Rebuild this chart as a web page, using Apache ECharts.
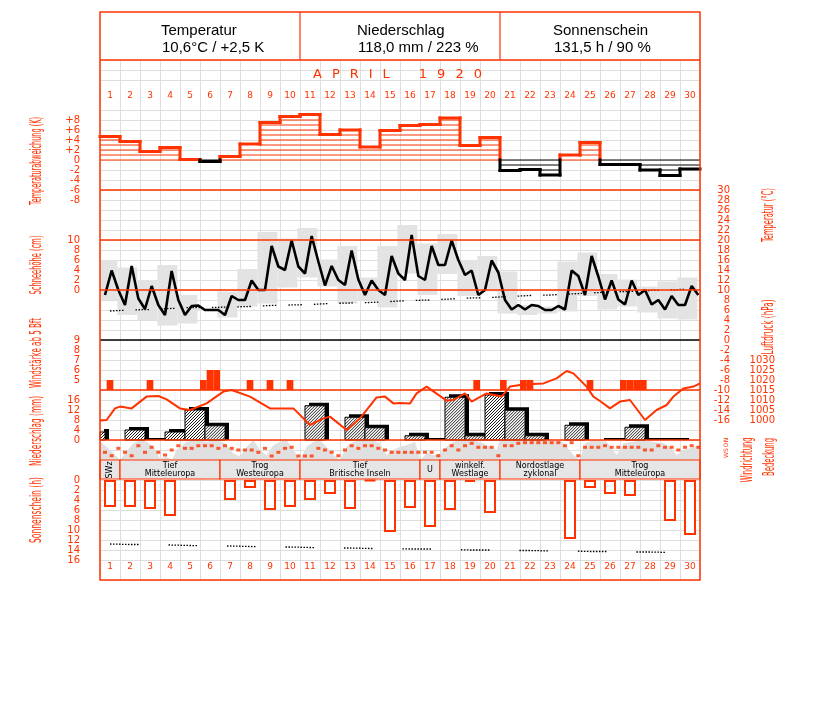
<!DOCTYPE html>
<html>
<head>
<meta charset="utf-8">
<title>April 1920</title>
<script src="https://cdn.jsdelivr.net/npm/echarts@6.0.0/dist/echarts.min.js"></script>
<style>
html,body{margin:0;padding:0;background:#ffffff;}
#chart{width:827px;height:702px;}
</style>
</head>
<body>
<div id="chart"></div>
<script>
// ================= DATA =================
const days = ['1','2','3','4','5','6','7','8','9','10','11','12','13','14','15','16','17','18','19','20','21','22','23','24','25','26','27','28','29','30'];

// Temperaturabweichung (K), daily
const devK = [4.7,3.7,1.7,2.5,0.1,-0.3,0.7,3.2,7.5,8.7,9.1,5.1,6.0,2.6,5.9,6.9,7.1,8.4,2.9,4.5,-2.1,-1.9,-3.0,1.0,3.5,-0.9,-0.9,-2.0,-3.1,-1.8];

// Temperature observations (°C) at morning / noon / evening terms
const temp7  = [9.0,7.0,6.2,5.0,5.0,6.0,5.0,8.0,10.0,14.0,13.3,10.9,11.0,9.0,9.0,12.0,12.0,15.0,13.0,10.0,8.0,6.1,6.0,6.1,9.0,8.1,7.1,10.0,6.1,7.0];
const temp14 = [13.9,14.8,10.8,13.8,6.8,6.0,8.8,11.9,18.8,19.9,20.8,14.8,17.9,11.9,16.8,21.0,18.8,19.9,13.9,15.9,6.1,7.0,6.0,13.9,16.8,11.9,11.9,7.1,8.8,10.8];
const temp21 = [10.0,8.3,7.0,8.0,6.9,6.0,8.0,10.0,14.7,14.7,15.7,12.0,12.1,10.0,13.3,12.8,15.0,16.0,9.0,13.5,7.0,6.8,6.8,12.8,12.7,8.1,9.0,8.0,7.0,9.0];
// Daily max / min (°C)
const tMax = [16,14.5,12,15,9,6.3,9.7,14.2,21.6,20.3,22.4,16.1,18.8,12.5,18.8,23,19.3,21.2,16,16.8,13.7,7,6.7,15.7,17.5,13.2,12.1,10.7,11.7,12.5];
const tMin = [8,5,4,2.9,3.3,5.8,4.5,6.7,7.3,10.5,12.5,10.7,7.3,8,6.5,13.3,9,13.2,8.8,9.7,5.3,5,5.3,5.7,8.8,6.1,6.7,5.5,4.3,4.1];
// Long-term mean temperature (°C)
const tNormal = [5.8,6.0,6.1,6.3,6.5,6.5,6.6,6.7,6.9,7.0,7.1,7.3,7.4,7.5,7.7,7.9,8.0,8.2,8.4,8.5,8.7,8.9,9.0,9.2,9.4,9.6,9.7,9.9,10.0,10.2];

// Niederschlag (mm), daily
const precip = [3.2,0,4.0,0.4,3.2,12.0,5.7,0,0,0,0,13.7,0,9.1,4.9,0,1.7,0.4,17.1,1.7,18.0,11.9,1.7,0,5.9,0,0.4,5.1,0.4,0.4];

// Windstärke >= 5 Bft : day, term (0/1/2), Bft
const windDay  = [1,3,6,6,6,8,9,10,19,21,22,22,25,27,27,27,28];
const windTerm = [1,1,0,1,2,1,1,1,2,0,0,1,1,0,1,2,0];
const windBft  = [5,5,5,6,6,5,5,5,5,5,5,5,5,5,5,5,5];

// Luftdruck (hPa): time in days since 1 April 0h, value
const pressT   = [0,0.33,0.75,1.0,1.58,2.33,2.92,3.33,4.0,4.5,5.33,6.17,6.58,7.5,8.5,9.67,10.5,11.17,11.5,12.33,13.0,13.83,14.25,14.67,15.0,15.5,15.83,16.33,17.33,17.67,18.25,18.58,19.33,20.08,20.5,21.17,22.17,22.83,23.33,23.67,24.33,24.67,25.0,25.5,26.0,26.5,27.25,27.83,28.33,28.67,29.17,29.67,30.0];
const pressHpa = [999.7,1000,1005.8,1006.7,1005.8,1011.7,1012,1010.3,1005.8,1005,1008.3,1014.2,1015,1011.7,1005.8,1005.8,997.5,1000.8,1001.7,995,1000.8,1011.3,1011.7,1008.3,1008.5,1008.3,1013.3,1016.7,1009.7,1010,1013.3,1009.2,1013.3,1011.7,1016.7,1017.8,1018.3,1020.8,1024.5,1023.3,1016.7,1011.7,1009.5,1005.8,1009.2,1010,1000,1005,1007.5,1011.7,1015.8,1016.7,1018.3];

// Bedeckung (octas): time, value
const cloudT    = [0,0.33,0.75,1.0,1.25,1.67,2.0,2.33,2.67,3.0,3.33,3.58,3.83,4.33,4.83,5.33,5.83,6.25,6.67,7.0,7.33,7.67,8.0,8.33,8.67,9.0,9.33,9.67,10.0,10.33,10.67,11.0,11.33,11.67,12.0,12.33,12.67,13.17,13.67,14.0,14.33,14.67,15.0,15.33,15.75,16.03,16.33,16.67,17.0,17.33,17.67,18.17,18.67,19.17,19.5,19.83,20.0,23.0,23.33,23.67,24.0,24.25,24.67,25.33,25.83,26.17,26.67,27.17,27.67,28.17,28.5,28.83,29.17,29.5,30.0];
const cloudOkta = [7.3,5.3,2,0,2.7,6.7,8,7.3,5.3,0.7,1.3,0,4,7.3,8,7.3,8,6.7,2.7,1.3,5.3,8,4,2,6,7.3,8,4,0,5.3,7.3,8,5.3,2,0,5.3,7.3,8,8,6.7,2,4,5.3,6,7.3,0,2.7,2,2.7,5.3,7.3,8,8,6.7,5.3,4,8,8,5.3,2,0,6.7,8,7.3,2,6.7,7.3,8,7.3,6.7,5.3,2,4,4.7,6];

// Windrichtung (degrees) at the three terms
const dir7  = [221,221,221,270,150,103,103,180,150,150,288,180,180,103,180,221,221,180,103,131,103,48,48,103,131,103,131,180,131,131];
const dir14 = [283,283,131,180,150,103,150,180,288,131,288,221,103,103,221,221,221,103,60,131,103,48,48,48,131,131,131,180,131,103];
const dir21 = [150,103,221,103,103,150,180,221,221,288,150,283,150,150,221,221,283,180,131,283,60,48,48,283,131,131,131,103,180,131];

// Sonnenschein (h), daily, and possible sunshine (h)
const sun = [5.4,5.4,5.8,7.2,0,0,4.0,1.6,6.0,5.4,4.0,2.8,5.8,0.2,10.4,5.6,9.4,6.0,0.4,6.6,0,0,0,11.8,1.6,2.8,3.2,0,8.2,11.0];
const sunPossible = [12.8,12.9,12.9,13.0,13.1,13.2,13.2,13.3,13.4,13.4,13.5,13.6,13.6,13.7,13.7,13.8,13.8,13.9,14.0,14.0,14.1,14.1,14.2,14.2,14.3,14.3,14.4,14.4,14.5,14.5];

// Großwetterlagen
const wtStart = [0,1,6,10,16,17,20,24];
const wtEnd   = [1,6,10,16,17,20,24,30];
const wtName  = ['SWz','Tief\nMitteleuropa','Trog\nWesteuropa','Tief\nBritische Inseln','U','winkelf.\nWestlage','Nordostlage\nzyklonal','Trog\nMitteleuropa'];

// Header
const headTitles = ['Temperatur','Niederschlag','Sonnenschein'];
const headValues = ['10,6°C / +2,5 K','118,0 mm / 223 %','131,5 h / 90 %'];
const chartTitle = 'APRIL 1920';

// tick label sets
const devTicks = [-8,-6,-4,-2,0,2,4,6,8];
const dirLabels = {0:'N',90:'O',180:'S',270:'W',360:'N'};

// ================= STYLE / LAYOUT =================
const RED = '#ff3300';
const GRIDC = '#dedede';
const OBS = [0.25, 0.583, 0.917];
const BOX_SHIFT = 0.13;
const PRECIP_SHIFT = 1.25;
const TICKFONT = 'DejaVu Sans';

const mctx = document.createElement('canvas').getContext('2d');
function textW(t, font){ mctx.font = font; return mctx.measureText(t).width; }

function seg(x1,y1,x2,y2,color,w){
  return {type:'line', shape:{x1:x1,y1:y1,x2:x2,y2:y2}, style:{stroke:color, lineWidth:w, lineCap: w > 1.5 ? 'square' : 'butt'}};
}

function renderDev(params, api){
  const i = params.dataIndex;
  const d = api.value(0), v = api.value(1);
  const prev = i > 0 ? devK[i-1] : 0;
  const x0 = api.coord([d-1, 0])[0], x1 = api.coord([d, 0])[0];
  const y = val => api.coord([d, val])[1];
  const col = v >= 0 ? RED : '#000';
  const s = v >= 0 ? 1 : -1;
  const ch = [seg(x0, y(0), x1, y(0), col, 1)];
  for (let k = 1; k < Math.abs(v) - 0.2; k++) ch.push(seg(x0, y(s*k), x1, y(s*k), col, 1));
  ch.push(seg(x0, y(v), x1, y(v), col, 3));
  if (i > 0){
    const lo = Math.min(prev, v), hi = Math.max(prev, v);
    if (hi > 0) ch.push(seg(x0, y(Math.max(lo,0)), x0, y(hi), RED, 3));
    if (lo < 0) ch.push(seg(x0, y(lo), x0, y(Math.min(hi,0)), '#000', 3));
  }
  return {type:'group', children: ch};
}

function renderBox(params, api){
  const d = api.value(0);
  const p0 = api.coord([d-1-BOX_SHIFT, api.value(2)]);
  const p1 = api.coord([d-BOX_SHIFT, api.value(1)]);
  const left = api.coord([0, 0])[0];
  const x0 = Math.max(p0[0], left);
  return {type:'rect', shape:{x:x0, y:p0[1], width:p1[0]-x0, height:p1[1]-p0[1]}, style:{fill:'#e3e3e3'}};
}

function renderWind(params, api){
  const t = api.value(0), b = api.value(1);
  const p0 = api.coord([t, b]), p1 = api.coord([t+1/3, 4]);
  return {type:'rect', shape:{x:p0[0], y:p0[1], width:p1[0]-p0[0], height:p1[1]-p0[1]}, style:{fill:RED}};
}

function renderPrecip(params, api){
  const t = api.value(0), v = api.value(1);
  const left = api.coord([0, 0])[0];
  const x0 = Math.max(api.coord([t-0.5, 0])[0], left), x1 = api.coord([t+0.5, 0])[0];
  const yb = api.coord([t, 0])[1], yt = api.coord([t, v])[1];
  const ch = [];
  if (yb - yt < 1.5){
    ch.push(seg(x0, yb-1, x1+3, yb-1, '#000', 2));
    return {type:'group', children: ch};
  }
  ch.push({type:'rect', shape:{x:x0+4, y:yt-3, width:x1-x0, height:yb-yt+3}, style:{fill:'#000'}});
  ch.push({type:'rect', shape:{x:x0, y:yt, width:x1-x0, height:yb-yt}, style:{fill:'#fff'}});
  const step = 3;
  for (let k = x0 + yt + 1; k < x1 + yb; k += step){
    const xa = Math.max(x0, k - yb), xb = Math.min(x1, k - yt);
    if (xb > xa) ch.push(seg(xa, k - xa, xb, k - xb, '#000', 0.9));
  }
  ch.push({type:'rect', shape:{x:x0, y:yt, width:x1-x0, height:yb-yt}, style:{fill:null, stroke:'#000', lineWidth:1}});
  return {type:'group', children: ch};
}

function renderWt(params, api){
  const i = params.dataIndex;
  const a = api.coord([api.value(0), 1]), b = api.coord([api.value(1), 0]);
  const w = b[0]-a[0];
  const cx = (a[0]+b[0])/2, cy = (a[1]+b[1])/2;
  const rot = (w < 25 && wtName[i].length > 1) ? Math.PI/2 : 0;
  return {type:'group', children:[
    {type:'rect', shape:{x:a[0], y:a[1], width:w, height:b[1]-a[1]}, style:{fill:'#e6e6e6', stroke:RED, lineWidth:1.2}},
    {type:'text', x:cx, y:cy+0.5, rotation:rot, style:{text:wtName[i], font:'8px "DejaVu Sans"', fill:'#000', align:'center', verticalAlign:'middle', textAlign:'center', textVerticalAlign:'middle', lineHeight:8.5}}
  ]};
}

// ---- build point lists from the data arrays ----
const tempPts = [], dirPts = [];
days.forEach((_, i) => {
  tempPts.push([i+OBS[0], temp7[i]], [i+OBS[1], temp14[i]], [i+OBS[2], temp21[i]]);
  dirPts.push([i+OBS[0], dir7[i]], [i+OBS[1], dir14[i]], [i+OBS[2], dir21[i]]);
});

// ---- graphic (frame, header, titles) ----
const G = [];
G.push({type:'rect', shape:{x:100,y:12,width:600,height:568}, style:{fill:null, stroke:RED, lineWidth:1.5}, z:100});
G.push({type:'line', shape:{x1:100,y1:60,x2:700,y2:60}, style:{stroke:RED, lineWidth:1.5}, z:100});
G.push({type:'line', shape:{x1:300,y1:12,x2:300,y2:60}, style:{stroke:RED, lineWidth:1.2}, z:100});
G.push({type:'line', shape:{x1:500,y1:12,x2:500,y2:60}, style:{stroke:RED, lineWidth:1.2}, z:100});
const headX = [161, 357, 553];
headTitles.forEach((t, i) => {
  G.push({type:'text', x:headX[i], y:31, style:{text:t, font:'15px "Liberation Sans", Arial, sans-serif', fill:'#000', align:'left', verticalAlign:'middle', textAlign:'left', textVerticalAlign:'middle'}, z:100});
  G.push({type:'text', x:headX[i]+1, y:48, style:{text:headValues[i], font:'15px "Liberation Sans", Arial, sans-serif', fill:'#000', align:'left', verticalAlign:'middle', textAlign:'left', textVerticalAlign:'middle'}, z:100});
});
(function(){
  const f = '13px "DejaVu Sans", sans-serif';
  let x = 313;
  for (const c of chartTitle){
    if (c === ' '){ x += 19; continue; }
    G.push({type:'text', x:x, y:75, style:{text:c, font:f, fill:RED, align:'left', verticalAlign:'middle', textAlign:'left', textVerticalAlign:'middle'}, z:100});
    x += textW(c, f) + 10;
  }
})();
function vTitle(text, cx, cy, len){
  const f = '15px "Liberation Sans Narrow", "DejaVu Sans Condensed", "Liberation Sans", sans-serif';
  const s = len / textW(text, f);
  return {type:'text', x:cx, y:cy, rotation:Math.PI/2, scaleX:s, scaleY:1, style:{text:text, font:f, fill:RED, align:'center', verticalAlign:'middle', textAlign:'center', textVerticalAlign:'middle'}, z:100};
}
G.push(vTitle('Temperaturabweichung (K)', 37, 161, 88));
G.push(vTitle('Schneehöhe (cm)', 37, 265, 59));
G.push(vTitle('Windstärke ab 5 Bft', 37, 353, 70));
G.push(vTitle('Niederschlag (mm)', 37, 431, 70));
G.push(vTitle('Sonnenschein (h)', 37, 510, 66));
G.push(vTitle('Temperatur (°C)', 769, 215, 54));
G.push(vTitle('Luftdruck (hPa)', 769, 327, 55));
G.push(vTitle('Windrichtung', 748, 460, 45));
G.push(vTitle('Bedeckung', 770, 457, 38));

// ================= CHART =================
const chart = echarts.init(document.getElementById('chart'), null, {renderer:'canvas', width:827, height:702});
const grid = (top, h) => ({left:100, width:600, top:top, height:h, containLabel:false, outerBoundsMode:'none'});
const hx = gi => ({type:'value', gridIndex:gi, min:0, max:30, show:false});
const noAx = {axisLine:{show:false}, axisTick:{show:false}, splitLine:{show:false}};
const lab = (extra) => Object.assign({color:RED, fontSize:10, fontFamily:TICKFONT, margin:20, hideOverlap:false}, extra);
const rows = []; for (let r = 0; r <= 52; r++) rows.push(String(r));
const skipRows = [3, 4, 51];

const option = {
  animation: false,
  backgroundColor: '#ffffff',
  grid: [grid(60,520), grid(110,90), grid(190,230), grid(340,100), grid(440,20), grid(460,19), grid(480,80)],
  xAxis: [
    {type:'value', gridIndex:0, min:0, max:30, interval:1, axisLine:{show:false}, axisTick:{show:false}, axisLabel:{show:false}, splitLine:{show:true, lineStyle:{color:GRIDC, width:1, type:'solid'}}},
    hx(1),
    {type:'category', gridIndex:1, position:'top', data:days, axisLine:{show:false}, axisTick:{show:false}, splitLine:{show:false}, axisLabel:{interval:0, color:RED, fontSize:9, fontFamily:TICKFONT, margin:10}},
    hx(2), hx(3), hx(4), hx(5), hx(6),
    {type:'category', gridIndex:6, position:'bottom', data:days, axisLine:{show:false}, axisTick:{show:false}, splitLine:{show:false}, axisLabel:{interval:0, color:RED, fontSize:9, fontFamily:TICKFONT, margin:2}}
  ],
  yAxis: [
    {type:'category', gridIndex:0, inverse:true, boundaryGap:false, data:rows, axisLine:{show:false}, axisTick:{show:false}, axisLabel:{show:false}, splitLine:{show:true, interval:(idx) => skipRows.indexOf(idx) < 0, lineStyle:{color:GRIDC, width:1, type:'solid'}}},
    Object.assign({type:'value', gridIndex:1, min:-8, max:10, interval:2, position:'left', axisLabel:lab({formatter: v => devTicks.indexOf(v) < 0 ? '' : (v > 0 ? '+' + v : String(v))})}, noAx),
    Object.assign({type:'value', gridIndex:2, min:-16, max:30, interval:2, position:'right', axisLabel:lab({align:'right', margin:30})}, noAx),
    Object.assign({type:'value', gridIndex:2, min:-26, max:20, interval:2, position:'left', axisLabel:lab({formatter: v => (v >= 0 && v <= 10) ? String(v) : ''})}, noAx),
    Object.assign({type:'value', gridIndex:3, min:-1, max:9, interval:1, position:'left', axisLabel:lab({formatter: v => (v >= 5 && v <= 9) ? String(v) : ''})}, noAx),
    Object.assign({type:'value', gridIndex:3, min:0, max:40, interval:4, position:'left', axisLabel:lab({formatter: v => v <= 16 ? String(v) : ''})}, noAx),
    Object.assign({type:'value', gridIndex:3, min:990, max:1040, interval:5, position:'right', axisLabel:lab({align:'right', margin:75, formatter: v => (v >= 1000 && v <= 1030) ? String(v) : ''})}, noAx),
    {type:'value', gridIndex:4, min:0, max:8, show:false},
    Object.assign({type:'value', gridIndex:4, min:0, max:360, interval:90, inverse:true, position:'right', axisLabel:lab({fontSize:6, margin:26, rotate:90, align:'center', verticalAlign:'middle', formatter: v => dirLabels[v] || ''})}, noAx),
    {type:'value', gridIndex:5, min:0, max:1, show:false},
    Object.assign({type:'value', gridIndex:6, min:0, max:16, interval:2, inverse:true, position:'left', axisLabel:lab({})}, noAx)
  ],
  graphic: {elements: G},
  series: [
    // deviation steps
    {type:'custom', xAxisIndex:1, yAxisIndex:1, renderItem:renderDev, data: devK.map((v,i)=>[i+1, v]), z:3, silent:true},
    // daily max/min boxes
    {type:'custom', xAxisIndex:3, yAxisIndex:2, renderItem:renderBox, data: tMax.map((mx,i)=>[i+1, tMin[i], mx]), z:1, silent:true},
    // temperature curve + reference lines
    {type:'line', xAxisIndex:3, yAxisIndex:2, data:tempPts, symbol:'none', lineStyle:{color:'#000', width:2.6}, z:4, silent:true,
      markLine:{silent:true, symbol:'none', label:{show:false}, animation:false,
        data:[{yAxis:30, lineStyle:{color:RED, width:1.5, type:'solid'}},{yAxis:20, lineStyle:{color:RED, width:1.5, type:'solid'}},{yAxis:10, lineStyle:{color:RED, width:1.5, type:'solid'}},{yAxis:0, lineStyle:{color:'#000', width:1.5, type:'solid'}},{yAxis:-10, lineStyle:{color:RED, width:1.5, type:'solid'}}]}},
    // normal temperature (dotted)
    {type:'line', xAxisIndex:3, yAxisIndex:2, data: tNormal.map((v,i)=>[i+0.5, v]), symbol:'none', lineStyle:{color:'#000', width:1.3, type:[1.5,1.5,1.5,1.5,1.5,1.5,1.5,1.5,1.5,12]}, z:3, silent:true},
    // wind >= 5 Bft
    {type:'custom', xAxisIndex:4, yAxisIndex:4, renderItem:renderWind, data: windDay.map((d,i)=>[d-1+windTerm[i]/3, windBft[i]]), z:3, silent:true},
    // precipitation bars (hatched, shadowed)
    {type:'custom', xAxisIndex:4, yAxisIndex:5, renderItem:renderPrecip, data: precip.map((v,i)=>[i+1-PRECIP_SHIFT, v]).filter(p=>p[1]>0), z:3, silent:true,
      markLine:{silent:true, symbol:'none', label:{show:false}, data:[{yAxis:0}], lineStyle:{color:RED, width:1.5, type:'solid'}}},
    // air pressure
    {type:'line', xAxisIndex:4, yAxisIndex:6, data: pressT.map((t,i)=>[t, pressHpa[i]]), symbol:'none', lineStyle:{color:RED, width:2}, z:5, silent:true},
    // cloud cover
    {type:'line', xAxisIndex:5, yAxisIndex:7, data: cloudT.map((t,i)=>[t, cloudOkta[i]]), symbol:'none', lineStyle:{width:0, opacity:0}, areaStyle:{color:'#e0e0e0', opacity:1}, z:1, silent:true},
    // wind direction
    {type:'scatter', xAxisIndex:5, yAxisIndex:8, data:dirPts, symbol:'rect', symbolSize:[4,3], itemStyle:{color:RED}, z:4, silent:true},
    // weather types
    {type:'custom', xAxisIndex:6, yAxisIndex:9, renderItem:renderWt, data: wtStart.map((s,i)=>[s, wtEnd[i]]), z:3, silent:true},
    // sunshine bars
    {type:'bar', xAxisIndex:7, yAxisIndex:10, data: sun.map((v,i)=>[i+0.5, v]).filter(p=>p[1]>0), barWidth:12, z:3, silent:true,
      itemStyle:{color:'#ffffff', borderColor:RED, borderWidth:2}},
    // possible sunshine (dotted)
    {type:'line', xAxisIndex:7, yAxisIndex:10, data: sunPossible.map((v,i)=>[i+0.5, v]), symbol:'none', lineStyle:{color:'#000', width:1.3, type:[1.5,1.5,1.5,1.5,1.5,1.5,1.5,1.5,1.5,1.5,1.5,1.5,1.5,1.5,1.5,1.5,1.5,1.5,1.5,30]}, z:3, silent:true}
  ]
};
chart.setOption(option);
</script>
</body>
</html>
